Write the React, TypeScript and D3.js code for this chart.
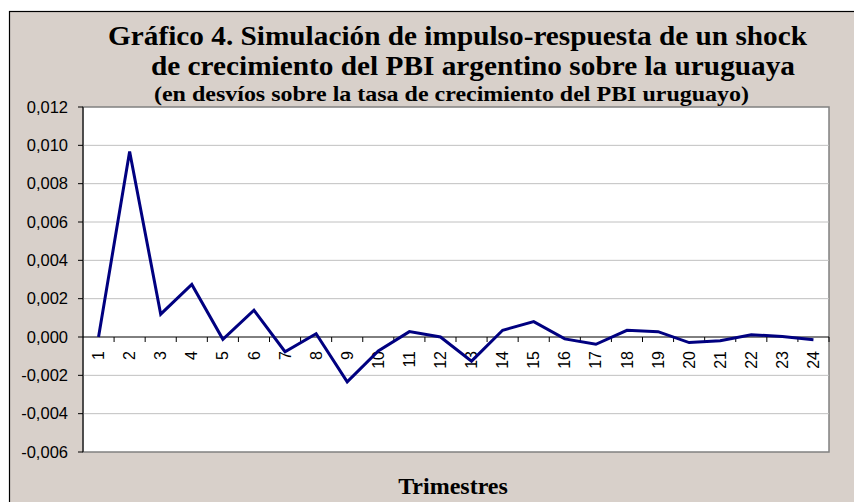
import React from "react";
import * as d3 from "d3";

// trimestres (x categories)
const quarters = [
  "1", "2", "3", "4", "5", "6", "7", "8", "9", "10", "11", "12",
  "13", "14", "15", "16", "17", "18", "19", "20", "21", "22", "23", "24",
];
// respuesta del PBI uruguayo
const response = [
  0.0, 0.00968, 0.00119, 0.00274, -0.00012, 0.0014, -0.00077, 0.00017,
  -0.00234, -0.00073, 0.00028, 0.0, -0.00126, 0.00035, 0.0008, -0.0001,
  -0.00038, 0.00035, 0.00028, -0.00029, -0.0002, 0.00012, 0.00002, -0.00014,
];
const yTicks = [-0.006, -0.004, -0.002, 0, 0.002, 0.004, 0.006, 0.008, 0.01, 0.012];

const titleLines = [
  "Gráfico 4. Simulación de impulso-respuesta de un shock",
  "de crecimiento del PBI argentino sobre la uruguaya",
];
const subtitle = "(en desvíos sobre la tasa de crecimiento del PBI uruguayo)";
const xTitle = "Trimestres";

const W = 854;
const H = 502;
const plot = { left: 83, right: 829, top: 107, bottom: 452 };

const esLocale = d3.formatLocale({
  decimal: ",",
  thousands: ".",
  grouping: [3],
  currency: ["$", ""],
  minus: "-",
});
const fmt = esLocale.format(".3f");

export default function App() {
  const x = d3
    .scaleBand<string>()
    .domain(quarters)
    .range([plot.left, plot.right])
    .padding(0);
  const y = d3
    .scaleLinear()
    .domain([-0.006, 0.012])
    .range([plot.bottom, plot.top]);

  const line = d3
    .line<number>()
    .x((d, i) => (x(quarters[i]) as number) + x.bandwidth() / 2)
    .y((d) => y(d));

  const y0 = y(0);
  const serif = "'Liberation Serif', 'Times New Roman', serif";
  const sans = "'Liberation Sans', Arial, sans-serif";

  return (
    <svg
      width={W}
      height={H}
      style={{ position: "absolute", left: 0, top: 0, background: "#fff" }}
    >
      {/* outer frame */}
      <rect
        x={9.5}
        y={11.5}
        width={W + 20}
        height={H + 20}
        fill="#d8d0ca"
        stroke="#000"
        strokeWidth={1.2}
      />

      {/* title */}
      <text
        x={108}
        y={45}
        fontFamily={serif}
        fontWeight="bold"
        fontSize={27}
        textLength={699}
        lengthAdjust="spacingAndGlyphs"
      >
        {titleLines[0]}
      </text>
      <text
        x={151}
        y={75}
        fontFamily={serif}
        fontWeight="bold"
        fontSize={27}
        textLength={644}
        lengthAdjust="spacingAndGlyphs"
      >
        {titleLines[1]}
      </text>
      <text
        x={154}
        y={101}
        fontFamily={serif}
        fontWeight="bold"
        fontSize={21}
        textLength={595}
        lengthAdjust="spacingAndGlyphs"
      >
        {subtitle}
      </text>

      {/* plot area */}
      <rect
        x={plot.left}
        y={plot.top}
        width={plot.right - plot.left}
        height={plot.bottom - plot.top}
        fill="#fff"
        stroke="#808080"
        strokeWidth={1.5}
      />

      {/* gridlines */}
      {yTicks
        .filter((t) => t !== 0 && t !== -0.006 && t !== 0.012)
        .map((t) => (
          <line
            key={"g" + t}
            x1={plot.left}
            x2={plot.right}
            y1={y(t)}
            y2={y(t)}
            stroke="#c0c0c0"
            strokeWidth={1}
          />
        ))}

      {/* y axis */}
      <line
        x1={plot.left}
        x2={plot.left}
        y1={plot.top}
        y2={plot.bottom}
        stroke="#000"
        strokeWidth={1}
      />
      {yTicks.map((t) => (
        <g key={"y" + t} transform={`translate(${plot.left},${y(t)})`}>
          <line x1={-5} x2={0} stroke="#000" />
          <text
            x={-15}
            dy="0.35em"
            textAnchor="end"
            fontFamily={sans}
            fontSize={16.5}
            fill="#000"
          >
            {fmt(t)}
          </text>
        </g>
      ))}

      {/* x axis at zero */}
      <line
        x1={plot.left}
        x2={plot.right}
        y1={y0}
        y2={y0}
        stroke="#000"
        strokeWidth={1}
      />
      {quarters.map((q) => (
        <line
          key={"t" + q}
          x1={(x(q) as number) + x.bandwidth()}
          x2={(x(q) as number) + x.bandwidth()}
          y1={y0}
          y2={y0 + 5}
          stroke="#000"
        />
      ))}
      {quarters.map((q) => (
        <text
          key={"l" + q}
          transform={`translate(${(x(q) as number) + x.bandwidth() / 2},${y0 + 14}) rotate(-90)`}
          dy="0.35em"
          textAnchor="end"
          fontFamily={sans}
          fontSize={16}
          fill="#000"
        >
          {q}
        </text>
      ))}

      {/* series */}
      <path
        d={line(response) ?? ""}
        fill="none"
        stroke="#000080"
        strokeWidth={3}
        strokeLinejoin="miter"
      />

      {/* x title */}
      <text
        x={453}
        y={494}
        textAnchor="middle"
        fontFamily={serif}
        fontWeight="bold"
        fontSize={24}
      >
        {xTitle}
      </text>
    </svg>
  );
}
